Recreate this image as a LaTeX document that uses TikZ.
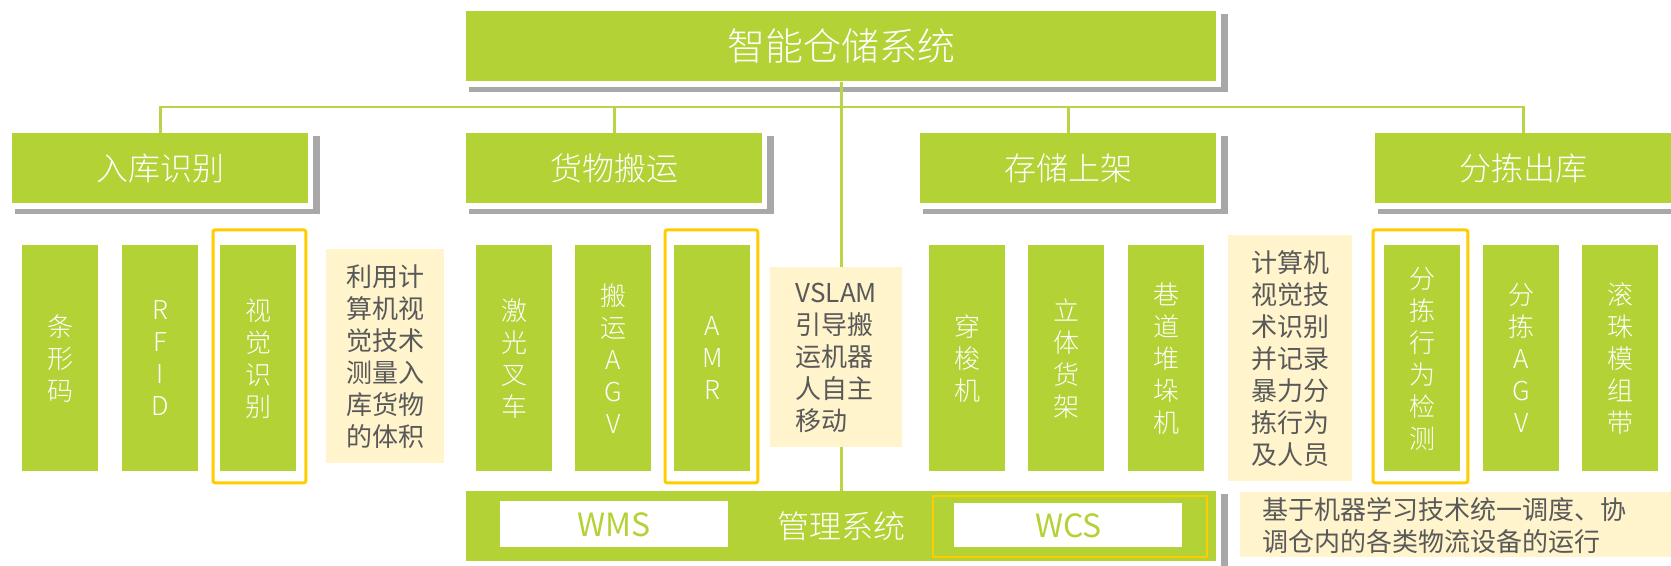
\documentclass[tikz,border=0pt]{standalone}
\usepackage{fontspec}
\setmainfont{Noto Sans CJK SC}
\newfontfamily\lightf{Noto Sans CJK SC Light}
\definecolor{gr}{HTML}{B3D235}
\definecolor{lg}{HTML}{B8D54A}
\definecolor{ny}{HTML}{FFF4CC}
\definecolor{dk}{HTML}{595959}
\definecolor{yl}{HTML}{FFCC00}
\definecolor{shc}{HTML}{A8A8A8}
\pgfdeclarelayer{bg}
\pgfdeclarelayer{mid}
\pgfsetlayers{bg,mid,main}
\begin{document}
\begin{tikzpicture}[x=0.5pt,y=-0.5pt,
  gbox/.style={fill=gr, inner sep=0pt, anchor=north west, text=white},
  hdr/.style={gbox, minimum width=148pt, minimum height=35pt, font=\lightf\fontsize{16}{19}\selectfont},
  vbox/.style={gbox, minimum width=38pt, minimum height=113pt, align=center, font=\lightf\fontsize{13}{16}\selectfont},
  note/.style={fill=ny, text=dk, inner sep=0pt, anchor=north west, align=left, font=\fontsize{13}{16}\selectfont},
  wbox/.style={fill=white, inner sep=0pt, anchor=north west, text=gr, font=\fontsize{16}{19}\selectfont},
  yfr/.style={draw=yl, line width=1.5pt, rounded corners=1pt},
  conn/.style={draw=lg, line width=1.2pt}]
\useasboundingbox (0,0) rectangle (1671,566);

% top and headers
\node[gbox, minimum width=375pt, minimum height=35pt, font=\lightf\fontsize{19}{22}\selectfont] (top) at (466,11) {智能仓储系统};
\node[hdr] (h1) at (12,133) {入库识别};
\node[hdr] (h2) at (466,133) {货物搬运};
\node[hdr] (h3) at (920,133) {存储上架};
\node[hdr] (h4) at (1375,133) {分拣出库};

% level 3
\node[vbox] (a1) at (22,245) {条\\形\\码};
\node[vbox] (a2) at (122,245) {R\\F\\I\\D};
\node[vbox] (a3) at (220,245) {视\\觉\\识\\别};
\node[vbox] (b1) at (476,245) {激\\光\\叉\\车};
\node[vbox] (b2) at (575,245) {搬\\运\\A\\G\\V};
\node[vbox] (b3) at (674,245) {A\\M\\R};
\node[vbox] (c1) at (929,245) {穿\\梭\\机};
\node[vbox] (c2) at (1028,245) {立\\体\\货\\架};
\node[vbox] (c3) at (1128,245) {巷\\道\\堆\\垛\\机};
\node[vbox] (d1) at (1384,245) {分\\拣\\行\\为\\检\\测};
\node[vbox] (d2) at (1483,245) {分\\拣\\A\\G\\V};
\node[vbox] (d3) at (1582,245) {滚\\珠\\模\\组\\带};

% notes
\node[note, minimum width=59pt, minimum height=107pt] (n1) at (326,249) {利用计\\算机视\\觉技术\\测量入\\库货物\\的体积};
\node[note, minimum width=66pt, minimum height=90pt] (n2) at (770,267) {VSLAM\\引导搬\\运机器\\人自主\\移动};
\node[note, minimum width=62pt, minimum height=123pt] (n3) at (1228,235) {计算机\\视觉技\\术识别\\并记录\\暴力分\\拣行为\\及人员};
\node[note, minimum width=215.5pt, minimum height=32.5pt] (n4) at (1240,492) {};
\node[text=dk, inner sep=0pt, anchor=west, align=left, font=\fontsize{13}{16}\selectfont] (n4t) at (1262,526) {基于机器学习技术统一调度、协\\调仓内的各类物流设备的运行};

% management bar
\node[gbox, minimum width=375pt, minimum height=35pt, font=\lightf\fontsize{16}{19}\selectfont] (bar) at (466,491) {管理系统};
\node[wbox, minimum width=114pt, minimum height=23pt] (wms) at (500,501) {WMS};
\node[wbox, minimum width=114pt, minimum height=22pt] (wcs) at (954,503) {WCS};

% yellow frames
\draw[yfr] ([shift={(-7,-15)}]a3.north west) rectangle ([shift={(9,11)}]a3.south east);
\draw[yfr] ([shift={(-9,-15)}]b3.north west) rectangle ([shift={(7,11)}]b3.south east);
\draw[yfr] ([shift={(-11,-15)}]d1.north west) rectangle ([shift={(7,11)}]d1.south east);
\draw[draw=yl, line width=1pt] ([shift={(-21,-7)}]wcs.north west) rectangle ([shift={(24,9)}]wcs.south east);

% connectors
\begin{pgfonlayer}{mid}
\draw[conn] (top.south) -- (bar.north);
\draw[conn] (h1.north) -- ++(0,-26) -| (h4.north);
\draw[conn] (h2.north) -- ++(0,-26);
\draw[conn] (h3.north) -- ++(0,-26);
\end{pgfonlayer}

% shadows and white borders
\begin{pgfonlayer}{bg}
\foreach \n in {top,h1,h2,h3,h4,bar} {
  \fill[shc] ([shift={(3,3)}]\n.north west) rectangle ([shift={(11,10)}]\n.south east);
  \fill[white] ([shift={(-2,-2)}]\n.north west) rectangle ([shift={(4,5)}]\n.south east);
}
\end{pgfonlayer}
\end{tikzpicture}
\end{document}
